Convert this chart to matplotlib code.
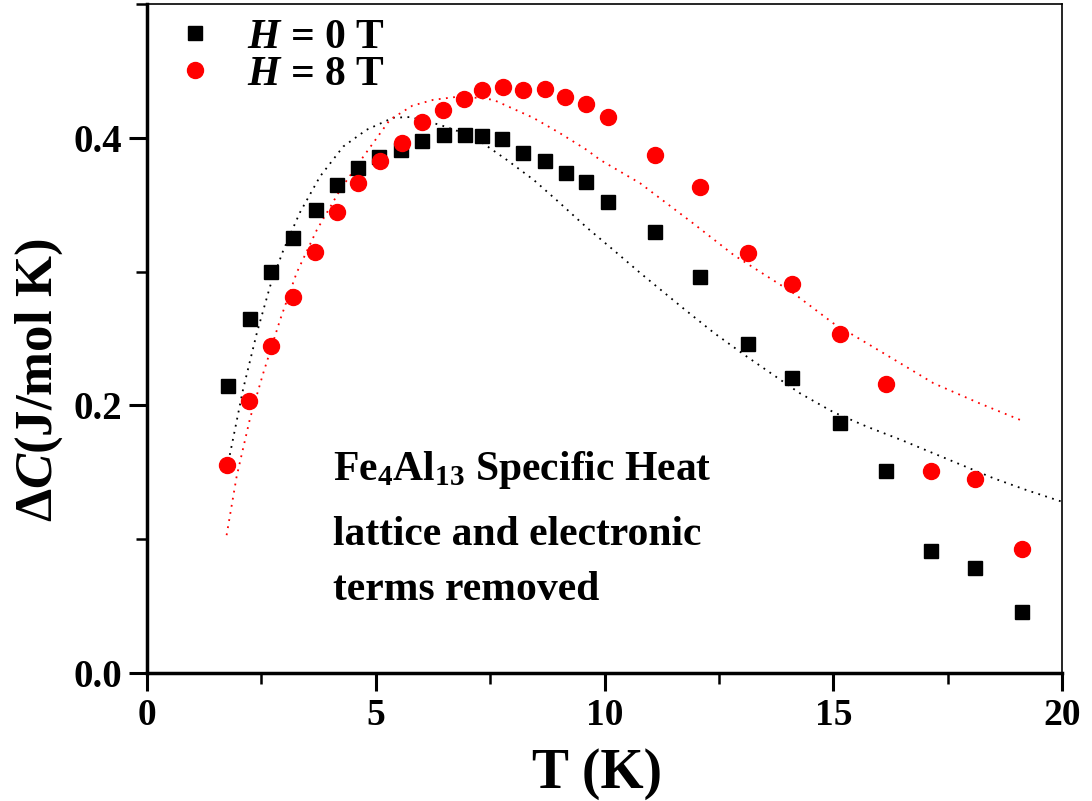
import matplotlib
matplotlib.use("Agg")
import matplotlib.pyplot as plt
from matplotlib.ticker import MultipleLocator

plt.rcParams['font.family'] = ['Liberation Serif', 'DejaVu Serif']
plt.rcParams['font.weight'] = 'bold'
plt.rcParams['mathtext.fontset'] = 'custom'
plt.rcParams['mathtext.rm'] = 'Liberation Serif:bold'
plt.rcParams['mathtext.it'] = 'Liberation Serif:italic:bold'
plt.rcParams['mathtext.bf'] = 'Liberation Serif:bold'

# ---- data: H = 0 T (squares) ----
T0 = [1.77, 2.25, 2.71, 3.19, 3.69, 4.15, 4.61, 5.07, 5.55, 6.01, 6.49, 6.95,
      7.32, 7.76, 8.22, 8.70, 9.16, 9.60, 10.08, 11.10, 12.09, 13.14, 14.10,
      15.15, 16.15, 17.14, 18.10, 19.13]
C0 = [0.2146, 0.2647, 0.2998, 0.3252, 0.3462, 0.3649, 0.3776, 0.3858, 0.3910,
      0.3978, 0.4022, 0.4022, 0.4015, 0.3993, 0.3888, 0.3828, 0.3738, 0.3671,
      0.3522, 0.3297, 0.2961, 0.2460, 0.2206, 0.1869, 0.1510, 0.0912, 0.0785,
      0.0456]

# ---- data: H = 8 T (circles) ----
T8 = [1.75, 2.23, 2.71, 3.19, 3.67, 4.15, 4.61, 5.09, 5.57, 6.01, 6.47, 6.93,
      7.32, 7.78, 8.22, 8.70, 9.14, 9.60, 10.08, 11.10, 12.09, 13.14, 14.10,
      15.15, 16.15, 17.14, 18.10, 19.13]
C8 = [0.1555, 0.2034, 0.2445, 0.2811, 0.3148, 0.3447, 0.3664, 0.3828, 0.3963,
      0.4120, 0.4209, 0.4292, 0.4359, 0.4381, 0.4359, 0.4366, 0.4307, 0.4254,
      0.4157, 0.3873, 0.3634, 0.3140, 0.2908, 0.2535, 0.2161, 0.1510, 0.1450,
      0.0927]

# ---- fit curves (dotted) ----
fitT0 = [1.81, 2.10, 2.40, 2.69, 2.98, 3.34, 3.78, 4.29, 4.80, 5.38, 5.75,
         6.40, 7.13, 7.86, 8.45, 9.00, 9.61, 10.20, 10.78, 11.72, 12.40, 13.11,
         14.27, 15.00, 15.73, 16.50, 17.19, 18.50, 19.20, 20.00]
fitC0 = [0.163, 0.212, 0.254, 0.289, 0.316, 0.344, 0.371, 0.3935, 0.406, 0.415,
         0.4155, 0.4097, 0.401, 0.3836, 0.3686, 0.352, 0.333, 0.316, 0.299,
         0.2726, 0.254, 0.2365, 0.2091, 0.195, 0.1842, 0.174, 0.1642, 0.1456,
         0.137, 0.128]
fitT8 = [1.74, 1.96, 2.25, 2.54, 2.91, 3.27, 3.71, 4.22, 4.73, 5.31, 5.80,
         6.26, 6.84, 7.28, 7.57, 8.44, 9.00, 9.61, 9.90, 10.78, 11.94, 12.82,
         14.13, 15.00, 16.10, 17.19, 18.20, 19.14]
fitC8 = [0.103, 0.147, 0.190, 0.224, 0.264, 0.299, 0.331, 0.361, 0.386, 0.4135,
         0.424, 0.4284, 0.4309, 0.4297, 0.4284, 0.415, 0.404, 0.391, 0.3836,
         0.366, 0.336, 0.3125, 0.2839, 0.2614, 0.239, 0.2166, 0.2015, 0.1884]

note_lines = ['Fe$_4$Al$_{13}$ Specific Heat', 'lattice and electronic',
              'terms removed']

fig = plt.figure(figsize=(10.92, 8.01), dpi=100)
ax = fig.add_axes([147/1092, 1 - 673/801, (1062-147)/1092, (673-4)/801])

ax.plot(fitT0, fitC0, linestyle=(0, (1, 3)), color='black', lw=1.3)
ax.plot(fitT8, fitC8, linestyle=(0, (1, 3)), color='red', lw=1.3)
ax.plot(T0, C0, 's', color='black', ms=10, mec='black', label=r'$H$ = 0 T')
ax.plot(T8, C8, 'o', color='red', ms=11.5, mec='red', label=r'$H$ = 8 T')

ax.set_xlim(0, 20)
ax.set_ylim(0, 0.5)
ax.xaxis.set_major_locator(MultipleLocator(5))
ax.xaxis.set_minor_locator(MultipleLocator(2.5))
ax.set_yticks([0.0, 0.2, 0.4])
ax.set_yticklabels(['0.0', '0.2', '0.4'])
ax.yaxis.set_minor_locator(MultipleLocator(0.1))
ax.tick_params(which='major', direction='out', length=13, width=2.2,
               labelsize=27, pad=5)
ax.tick_params(axis='y', which='major', labelsize=28)
ax.tick_params(which='minor', direction='out', length=8, width=1.8)
ax.tick_params(top=False, right=False, which='both')
for lab in ax.get_xticklabels() + ax.get_yticklabels():
    lab.set_fontweight('bold')

ax.spines['left'].set_linewidth(2.5)
ax.spines['bottom'].set_linewidth(2.5)
ax.spines['top'].set_linewidth(1.2)
ax.spines['right'].set_linewidth(1.2)

ax.set_xlabel('T (K)', fontsize=40, fontweight='bold', labelpad=11)
ax.xaxis.label.set_x(0.492)
ax.set_ylabel('$\u0394C$(J/mol K)', fontsize=38, fontweight='bold',
              labelpad=6)
ax.yaxis.label.set_y(0.438)

leg = ax.legend(loc='upper left', bbox_to_anchor=(-0.016, 1.022), frameon=False,
                fontsize=30, handletextpad=0.45, handlelength=1.6,
                labelspacing=-0.02, borderaxespad=0.3)

for txt, yb in zip(note_lines, [0.2885, 0.1913, 0.1091]):
    ax.text(0.2033, yb, txt, transform=ax.transAxes, fontsize=30,
            fontweight='bold', va='baseline', ha='left')

fig.savefig('out.png', dpi=100)
